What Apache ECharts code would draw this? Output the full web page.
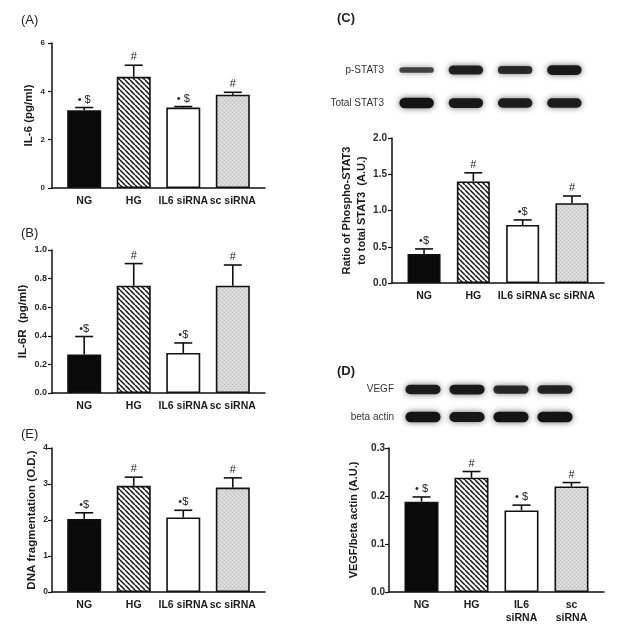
<!DOCTYPE html>
<html>
<head>
<meta charset="utf-8">
<script src="https://cdn.jsdelivr.net/npm/echarts@6.0.0/dist/echarts.min.js"></script>
<style>
  html, body { margin: 0; padding: 0; background: #fff; }
  #chart { width: 622px; height: 636px; }
</style>
</head>
<body>
<div id="chart"></div>
<script>
// groups, same order in every panel
const categories = ['NG', 'HG', 'IL6 siRNA', 'sc siRNA'];
const categoriesD = ['NG', 'HG', 'IL6\nsiRNA', 'sc\nsiRNA'];

// (A) IL-6
const il6Mean = [3.22, 4.6, 3.33, 3.86];
const il6Err = [0.11, 0.48, 0.04, 0.1];
const il6Marks = ['• $', '#', '• $', '#'];

// (B) IL-6R
const il6rMean = [0.27, 0.75, 0.28, 0.75];
const il6rErr = [0.125, 0.155, 0.07, 0.145];
const il6rMarks = ['•$', '#', '•$', '#'];

// (E) DNA fragmentation
const dnaMean = [2.03, 2.95, 2.07, 2.9];
const dnaErr = [0.17, 0.24, 0.2, 0.27];
const dnaMarks = ['•$', '#', '•$', '#'];

// (C) p-STAT3 / total STAT3
const stat3Mean = [0.4, 1.4, 0.8, 1.1];
const stat3Err = [0.07, 0.12, 0.07, 0.1];
const stat3Marks = ['•$', '#', '•$', '#'];
const stat3Rows = ['Total STAT3', 'p-STAT3'];
const pStat3Band = [0.35, 0.8, 0.65, 0.9];
const totalStat3Band = [1, 0.9, 0.85, 0.85];

// (D) VEGF / beta actin
const vegfMean = [0.188, 0.238, 0.17, 0.22];
const vegfErr = [0.01, 0.013, 0.011, 0.008];
const vegfMarks = ['• $', '#', '• $', '#'];
const vegfRows = ['beta actin', 'VEGF'];
const vegfBand = [0.85, 0.9, 0.7, 0.75];
const actinBand = [1, 0.95, 1, 1];

const FONT = 'Liberation Sans, Arial, Helvetica, sans-serif';
const X_MIN = -0.65, X_MAX = 3.65;

function hatchPattern() {
  const s = 5, c = document.createElement('canvas');
  c.width = c.height = s;
  const ctx = c.getContext('2d');
  ctx.fillStyle = '#fff';
  ctx.fillRect(0, 0, s, s);
  ctx.strokeStyle = '#111';
  ctx.lineWidth = 1.5;
  for (const o of [-s, 0, s]) {
    ctx.beginPath();
    ctx.moveTo(o, 0);
    ctx.lineTo(o + s, s);
    ctx.stroke();
  }
  return { image: c, repeat: 'repeat' };
}

function dotPattern() {
  const c = document.createElement('canvas');
  c.width = c.height = 4;
  const ctx = c.getContext('2d');
  ctx.fillStyle = '#d6d6d6';
  ctx.fillRect(0, 0, 4, 4);
  ctx.fillStyle = '#bdbdbd';
  ctx.fillRect(0, 0, 1, 1);
  ctx.fillRect(2, 2, 1, 1);
  ctx.fillStyle = '#e9e9e9';
  ctx.fillRect(2, 0, 1, 1);
  ctx.fillRect(0, 2, 1, 1);
  return { image: c, repeat: 'repeat' };
}

const fills = ['#0a0a0a', hatchPattern(), '#ffffff', dotPattern()];

const grids = [], xAxes = [], yAxes = [], series = [];

function addBarPanel(p) {
  const gi = grids.length;
  grids.push({ left: p.left, top: p.top, width: p.width, height: p.height, outerBoundsMode: 'none' });
  xAxes.push({
    type: 'value', gridIndex: gi, min: X_MIN, max: X_MAX,
    axisLine: { show: true, onZero: false, lineStyle: { color: '#111', width: 1.5 } },
    axisTick: { show: false },
    splitLine: { show: false },
    axisLabel: {
      customValues: [0, 1, 2, 3],
      formatter: v => p.cats[Math.round(v)],
      fontFamily: FONT, fontWeight: 'bold', fontSize: 10.5, color: '#1a1a1a',
      margin: 7, lineHeight: 12.5, hideOverlap: false
    }
  });
  yAxes.push({
    type: 'value', gridIndex: gi, min: 0, max: p.max, interval: p.step,
    name: p.name, nameLocation: 'middle', nameRotate: 90, nameGap: p.nameGap,
    nameTextStyle: { fontFamily: FONT, fontWeight: 'bold', fontSize: p.nameSize || 11.5, color: '#1a1a1a', lineHeight: 15 },
    axisLine: { show: true, onZero: false, lineStyle: { color: '#111', width: 1.5 } },
    axisTick: { show: true, length: 4, lineStyle: { color: '#111', width: 1.2 } },
    splitLine: { show: false },
    axisLabel: {
      formatter: v => v.toFixed(p.digits),
      fontFamily: FONT, fontWeight: 'bold', fontSize: p.tickSize, color: '#2a2a2a', margin: p.tickMargin
    }
  });
  series.push({
    type: 'bar', xAxisIndex: gi, yAxisIndex: gi, barWidth: p.barWidth || 34,
    itemStyle: { borderColor: '#111', borderWidth: 1.6 },
    data: p.mean.map((m, i) => ({ value: [i, m], itemStyle: { color: fills[i] } })),
    silent: true
  });
  // upper error bar + significance marks
  series.push({
    type: 'custom', xAxisIndex: gi, yAxisIndex: gi, clip: false, z: 3, silent: true,
    data: p.mean.map((m, i) => [i, m, p.err[i]]),
    renderItem: (params, api) => {
      const x = api.value(0), m = api.value(1), e = api.value(2);
      const base = api.coord([x, m]);
      const top = api.coord([x, m + e]);
      const half = 9;
      return {
        type: 'group',
        children: [
          { type: 'line', shape: { x1: base[0], y1: base[1], x2: top[0], y2: top[1] }, style: { stroke: '#111', lineWidth: 1.6 } },
          { type: 'line', shape: { x1: top[0] - half, y1: top[1], x2: top[0] + half, y2: top[1] }, style: { stroke: '#111', lineWidth: 1.6 } },
          {
            type: 'text', x: top[0], y: top[1] - 8,
            style: { text: p.marks[params.dataIndex], align: 'center', verticalAlign: 'middle', fontFamily: FONT, fontSize: 11, fill: '#222' }
          }
        ]
      };
    }
  });
}

function addBlotPanel(p) {
  const gi = grids.length;
  grids.push({ left: p.left, top: p.top, width: p.width, height: p.height, outerBoundsMode: 'none' });
  xAxes.push({ type: 'category', gridIndex: gi, data: categories, show: false });
  yAxes.push({
    type: 'category', gridIndex: gi, data: p.rows,
    axisLine: { show: false }, axisTick: { show: false }, splitLine: { show: false },
    axisLabel: { fontFamily: FONT, fontSize: 10, color: '#333', margin: p.labelMargin }
  });
  const data = [];
  p.bands.forEach((row, r) => row.forEach((v, i) => data.push([i, r, v])));
  series.push({
    type: 'custom', xAxisIndex: gi, yAxisIndex: gi, silent: true, data,
    renderItem: (params, api) => {
      const c = api.coord([api.value(0), api.value(1)]);
      const v = api.value(2);
      const w = api.size([1, 0])[0] * p.widthRatio;
      const h = 3 + 7.5 * v;
      return {
        type: 'rect',
        shape: { x: c[0] - w / 2, y: c[1] - h / 2, width: w, height: h, r: h / 2 },
        style: { fill: 'rgba(20,20,20,' + (0.6 + 0.4 * v) + ')', shadowBlur: 6, shadowColor: 'rgba(0,0,0,0.6)' }
      };
    }
  });
}

addBarPanel({ left: 52, top: 43, width: 213, height: 145, cats: categories, mean: il6Mean, err: il6Err, marks: il6Marks,
  max: 6, step: 2, digits: 0, name: 'IL-6 (pg/ml)', nameGap: 16, tickSize: 8, tickMargin: 7 });
addBarPanel({ left: 52, top: 250, width: 213, height: 143, cats: categories, mean: il6rMean, err: il6rErr, marks: il6rMarks,
  max: 1, step: 0.2, digits: 1, name: 'IL-6R  (pg/ml)', nameGap: 16, tickSize: 9, tickMargin: 5 });
addBarPanel({ left: 52, top: 448, width: 213, height: 144, cats: categories, mean: dnaMean, err: dnaErr, marks: dnaMarks,
  max: 4, step: 1, digits: 0, name: 'DNA fragmentation (O.D.)', nameGap: 10, tickSize: 8.5, tickMargin: 4 });
addBarPanel({ left: 392, top: 138, width: 212, height: 145, cats: categories, mean: stat3Mean, err: stat3Err, marks: stat3Marks,
  max: 2, step: 0.5, digits: 1, name: 'Ratio of Phospho-STAT3\nto total STAT3  (A.U.)', nameGap: 23, nameSize: 11,
  tickSize: 10, tickMargin: 5, barWidth: 33 });
addBarPanel({ left: 389, top: 448, width: 215, height: 144, cats: categoriesD, mean: vegfMean, err: vegfErr, marks: vegfMarks,
  max: 0.3, step: 0.1, digits: 1, name: 'VEGF/beta actin (A.U.)', nameGap: 28, nameSize: 11, tickSize: 10, tickMargin: 4 });

addBlotPanel({ left: 392, top: 53.5, width: 197, height: 66, rows: stat3Rows, bands: [totalStat3Band, pStat3Band],
  widthRatio: 0.7, labelMargin: 8 });
addBlotPanel({ left: 401, top: 375.75, width: 176, height: 55, rows: vegfRows, bands: [actinBand, vegfBand],
  widthRatio: 0.8, labelMargin: 7 });

function letter(text, left, top, bold) {
  return {
    text, left, top, padding: 0,
    textStyle: { fontFamily: FONT, fontSize: 13, fontWeight: bold ? 'bold' : 'normal', color: '#222' }
  };
}

const chart = echarts.init(document.getElementById('chart'), null, { renderer: 'canvas' });
chart.setOption({
  animation: false,
  backgroundColor: '#fff',
  title: [
    letter('(A)', 21, 14, false),
    letter('(B)', 21, 227, false),
    letter('(E)', 21, 428, false),
    letter('(C)', 337, 12, true),
    letter('(D)', 337, 365, true)
  ],
  grid: grids,
  xAxis: xAxes,
  yAxis: yAxes,
  series: series
});
</script>
</body>
</html>
